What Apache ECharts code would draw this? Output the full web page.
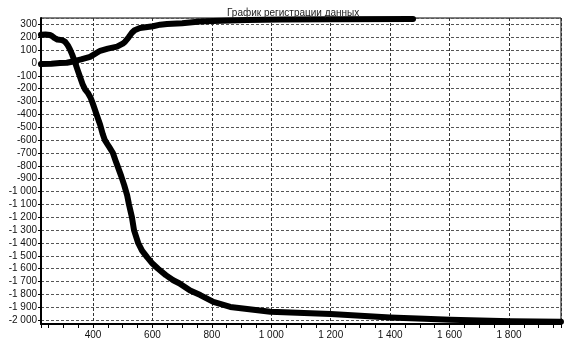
<!DOCTYPE html>
<html>
<head>
<meta charset="utf-8">
<script src="https://cdn.jsdelivr.net/npm/echarts@6/dist/echarts.min.js"></script>
<style>html,body{margin:0;padding:0;background:#fff}#c{width:564px;height:344px}</style>
</head>
<body>
<div id="c"></div>
<script>
// Data
const titleText = 'График регистрации данных';
const xTickLabels = [400, 600, 800, 1000, 1200, 1400, 1600, 1800];
const yTickLabels = [300, 200, 100, 0, -100, -200, -300, -400, -500, -600, -700, -800, -900, -1000, -1100, -1200, -1300, -1400, -1500, -1600, -1700, -1800, -1900, -2000];

// Rising series
const riseX = [225, 260, 289, 312, 333, 360, 390, 424, 450, 481, 500, 508, 520, 531, 540, 558, 602, 626, 649, 700, 760, 804, 918, 1030, 1200, 1477];
const riseY = [-8, -5, 0, 2, 12, 28, 48, 95, 112, 127, 150, 166, 200, 235, 255, 272, 286, 298, 304, 310, 322, 327, 335, 338, 340, 342];

// Falling series
const fallX = [225, 240, 255, 262, 270, 280, 295, 305, 315, 322, 330, 339, 346, 355, 365, 373, 382, 392, 400, 412, 424, 433, 440, 448, 455, 467, 476, 484, 495, 505, 515, 521, 531, 538, 552, 565, 582, 600, 619, 645, 670, 690, 727, 761, 805, 862, 997, 1200, 1400, 1515, 1603, 1806, 1975];
const fallY = [220, 222, 218, 210, 195, 183, 178, 168, 138, 108, 65, 10, -40, -100, -165, -205, -230, -270, -320, -400, -480, -555, -600, -630, -655, -700, -760, -810, -880, -950, -1030, -1100, -1200, -1300, -1400, -1460, -1510, -1560, -1600, -1650, -1690, -1713, -1770, -1805, -1858, -1897, -1935, -1953, -1979, -1990, -1996, -2008, -2013];

function fmt(v) {
  const s = String(Math.abs(v)).replace(/\B(?=(\d{3})+(?!\d))/g, ' ');
  return (v < 0 ? '-' : '') + s;
}

const chart = echarts.init(document.getElementById('c'));
chart.setOption({
  animation: false,
  backgroundColor: '#fff',
  title: {
    text: titleText,
    left: 222, top: 3,
    textStyle: { fontFamily: 'Liberation Sans', fontSize: 10, fontWeight: 'normal', color: '#222' }
  },
  grid: {
    left: 41, right: 3, top: 18, bottom: 20,
    show: true, borderColor: '#000', borderWidth: 1,
    outerBoundsMode: 'none', containLabel: false
  },
  xAxis: {
    type: 'value', min: 225, max: 1975,
    minInterval: 200, maxInterval: 200,
    axisLine: { show: true, onZero: false, lineStyle: { color: '#000', width: 2 } },
    axisTick: { show: true, length: 4, lineStyle: { color: '#000' } },
    minorTick: { show: true, splitNumber: 4, length: 4, lineStyle: { color: '#000' } },
    splitLine: { show: true, lineStyle: { color: '#333', type: [3, 2], width: 1 } },
    axisLabel: {
      margin: 6, color: '#111', fontFamily: 'Liberation Sans', fontSize: 10,
      showMinLabel: false, showMaxLabel: false,
      formatter: v => (xTickLabels.indexOf(v) >= 0 ? fmt(v) : '')
    }
  },
  yAxis: {
    type: 'value', min: -2030, max: 350,
    minInterval: 100, maxInterval: 100,
    axisLine: { show: true, onZero: false, lineStyle: { color: '#000', width: 2 } },
    axisTick: { show: true, length: 3, lineStyle: { color: '#000' } },
    splitLine: { show: true, lineStyle: { color: '#555', type: [3, 2], width: 1 } },
    axisLabel: {
      margin: 4, color: '#111', fontFamily: 'Liberation Sans', fontSize: 10,
      showMinLabel: false, showMaxLabel: false,
      formatter: v => (yTickLabels.indexOf(v) >= 0 ? fmt(v) : '')
    }
  },
  series: [
    {
      type: 'line', showSymbol: false, symbol: 'none',
      data: riseX.map((x, i) => [x, riseY[i]]),
      lineStyle: { color: '#000', width: 6, join: 'round', cap: 'round' }
    },
    {
      type: 'line', showSymbol: false, symbol: 'none',
      data: fallX.map((x, i) => [x, fallY[i]]),
      lineStyle: { color: '#000', width: 6, join: 'round', cap: 'round' }
    }
  ]
});
</script>
</body>
</html>
